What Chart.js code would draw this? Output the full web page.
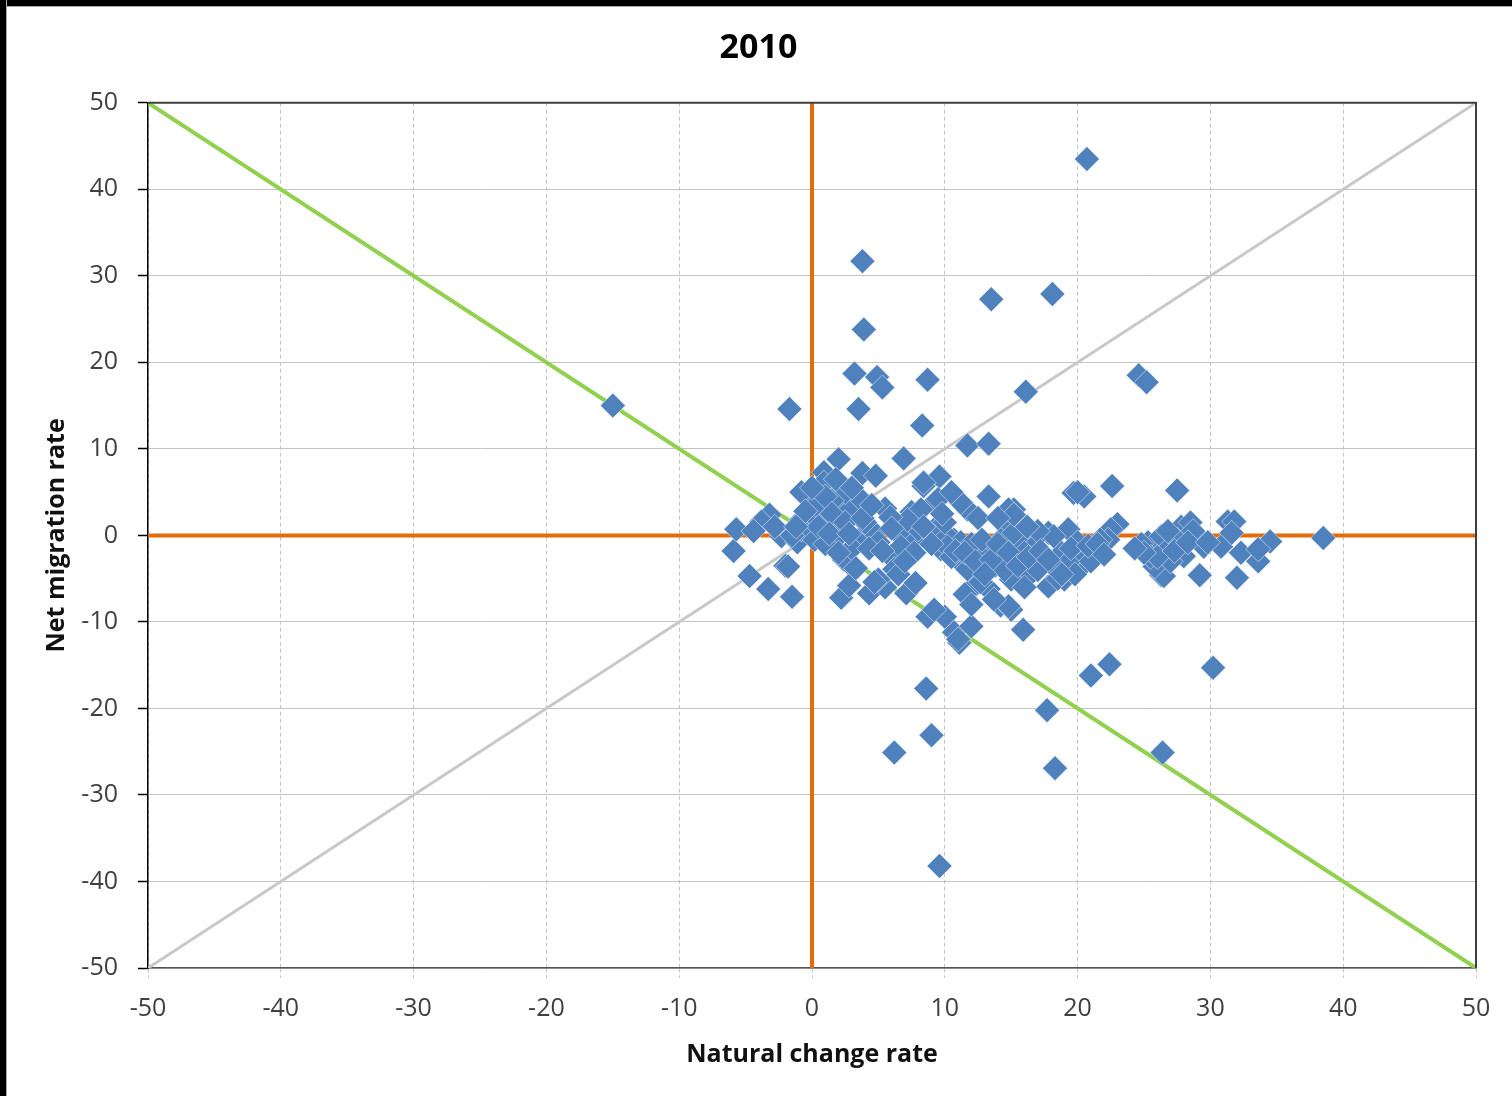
<!DOCTYPE html>
<html>
<head>
<meta charset="utf-8">
<script src="https://cdn.jsdelivr.net/npm/chart.js@4"></script>
<style>
  html, body { margin: 0; padding: 0; background: #fff; }
  #wrap { position: relative; width: 1512px; height: 1096px; }
  #frame-top { position: absolute; left: 0; top: 0; width: 1512px; height: 6px; background: #000; border-bottom: 1px solid #aaa; }
  #frame-left { position: absolute; left: 0; top: 0; width: 6px; height: 1096px; background: #000; border-right: 1px solid #aaa; }
</style>
</head>
<body>
<div id="wrap">
  <canvas id="chart" width="1512" height="1096"></canvas>
  <div id="frame-top"></div>
  <div id="frame-left"></div>
</div>
<script>
// Natural change rate (x) and net migration rate (y), one pair per area
const natChange = [
  20.7, 3.8, 13.5, 18.1, 3.9, 3.2, 4.9, 5.3, 8.7, 16.1,
  24.6, 25.2, -15.0, -1.7, 3.5, 8.3, 11.7, 13.3, 2.0, 6.9,
  3.8, 4.8, 9.6, 22.6, 27.5, 19.7, 20.5, 38.5, 34.5, 33.6,
  32.0, 29.2, 26.3, 31.3, 31.8, 30.2, 22.4, 21.0, 17.7, 18.3,
  26.4, 8.6, 9.0, 6.2, 9.6, 15.9, 11.1, 10.7, 8.7, 10.0,
  12.0, 14.2, -1.5, -3.3, -4.7, -5.9, -5.7, -2.0, -3.2, -3.8,
  2.2, 2.8, 4.3, 5.5, 7.1, 5.5, -4.4, -2.3, -1.1, -0.8,
  -0.3, 0.9, 1.7, 0.7, 0.7, 2.2, 1.7, 3.2, 2.4, 3.5,
  4.7, 6.7, 7.7, 7.5, 8.4, 9.2, 5.9, 6.2, 5.0, 11.0,
  9.7, 10.7, 11.7, 13.3, 15.2, 11.2, 12.2, 13.3, 15.0, 13.5,
  15.0, 9.2, 8.0, 20.0, 14.8, 23.0, 22.5, 19.3, 17.8, 16.7,
  15.7, 15.0, 16.3, 17.8, 19.0, 20.3, 21.2, 22.3, 14.8, 25.3,
  26.3, 26.8, 26.5, 25.8, 27.8, 28.5, 29.0, 28.0, 29.5, 30.8,
  31.6, 32.3, 33.6, 18.8, 19.5, 18.2, 8.4, 9.5, 8.2, 7.2,
  10.2, 11.2, 13.0, 14.2, 15.2, 16.7, 18.2, 20.4, 21.7, 11.7,
  15.0, 16.7, -0.8, 0.9, 2.0, 2.9, 5.9, 8.4, -0.8, 0.2,
  1.7, 5.0, 6.7, 7.7, -1.8, 2.7, 4.7, 9.2, 10.2, 11.2,
  12.7, 13.7, 24.8, 25.5, 27.0, 27.5, 28.7, 12.5, 13.8, 14.5,
  16.0, 17.0, 19.8, 21.0, 12.0, 10.5, 9.0, 4.0, 1.2, 0.3,
  3.0, 1.0, -1.5, -2.8, 2.5, 1.5, 3.8, 6.5, 7.8, 18.5,
  20.0, 17.0, 15.2, 0.3, 1.0, 1.5, 2.5, 0.5, 1.3, 2.8,
  3.8, 4.3, 2.0, 0.0, 1.8, 3.0, -0.5, -1.2, 4.5, 6.0,
  5.3, 3.3, 7.0, 10.0, 10.8, 11.5, 12.3, 12.8, 13.5, 14.0,
  14.8, 15.5, 16.3, 17.2, 17.8, 18.8, 19.5, 20.8, 21.5, 22.0,
  16.0, 13.0, 11.5, 12.0, 9.8, 10.5, 12.5, 14.0, 16.2, 26.0,
  27.3, 28.3, 26.8, 29.8, 25.0, 24.3
];
const netMigration = [
  43.5, 31.7, 27.3, 27.9, 23.8, 18.7, 18.3, 17.1, 18.0, 16.6,
  18.5, 17.7, 15.0, 14.6, 14.6, 12.7, 10.4, 10.6, 8.8, 8.9,
  7.2, 6.9, 6.8, 5.7, 5.2, 4.9, 4.5, -0.3, -0.7, -3.0,
  -4.9, -4.6, -4.6, 1.6, 1.6, -15.3, -14.9, -16.2, -20.2, -26.9,
  -25.1, -17.7, -23.1, -25.1, -38.2, -10.9, -12.4, -11.2, -9.4, -9.4,
  -10.5, -8.1, -7.1, -6.2, -4.7, -1.8, 0.7, -3.5, 2.4, 1.6,
  -7.2, -5.8, -6.7, -6.0, -6.7, 3.1, 0.5, -0.1, -0.8, 1.8,
  4.5, 7.3, 5.3, 3.0, -0.1, 0.7, -1.3, 2.7, -2.8, -0.5,
  0.3, -0.1, -0.8, 2.7, 5.7, 3.8, -2.4, -3.9, -5.1, -12.0,
  -1.6, -0.5, 3.0, 4.5, 3.0, -3.1, -5.9, -6.2, -8.6, -1.6,
  0.7, 0.7, 0.7, 5.0, 3.0, 1.3, 0.7, 0.7, 0.3, -0.5,
  -0.8, -2.8, -4.7, -5.9, -5.1, -3.6, -2.0, -0.5, -8.2, -0.8,
  -0.1, -1.6, -4.7, -3.6, 1.0, 1.5, -0.1, -2.4, -1.3, -1.3,
  0.3, -2.0, -1.6, -2.0, -2.8, -3.6, 6.1, 4.2, 3.0, 1.8,
  -0.1, -0.8, -1.6, -0.5, 0.3, -1.3, -0.1, -2.0, -0.5, -3.9,
  -5.1, -3.1, 5.0, 6.1, 3.8, 3.0, 2.1, 1.0, 0.7, -0.5,
  -0.5, -0.8, -1.3, -2.0, -3.6, -3.1, -5.4, -8.6, -1.3, 3.8,
  -5.4, -7.4, -1.0, -2.5, -3.0, -0.5, 0.5, -2.0, -3.5, -4.0,
  -2.0, -4.0, -4.5, -3.0, -1.0, -2.5, -1.0, 1.5, 1.5, 2.0,
  -1.5, -1.0, 0.0, 1.0, 5.0, 4.0, 4.0, -4.5, -5.5, -5.0,
  -0.8, 0.5, 2.4, 3.5, 4.5, 2.5, 1.5, 1.0, 0.2, 0.2,
  2.0, -1.5, -2.0, 5.5, 6.5, 5.5, 2.8, 1.0, 3.5, 0.8,
  -1.8, -3.8, -3.0, 1.5, -1.8, -2.0, -3.0, -0.5, -2.8, -1.0,
  -2.0, -3.5, -2.5, -1.8, -2.8, -4.5, -1.5, -1.2, -1.0, -2.2,
  -6.0, -4.5, -6.8, -8.0, 2.5, 5.0, 2.0, 2.0, 1.0, -2.5,
  -1.8, -0.8, 0.5, -0.8, -2.0, -1.5
];

// reference lines (endpoints in data units)
const axisX = [{ x: 0, y: -50 }, { x: 0, y: 50 }];
const axisY = [{ x: -50, y: 0 }, { x: 50, y: 0 }];
const balanceLine = [{ x: -50, y: 50 }, { x: 50, y: -50 }];
const diagonalLine = [{ x: -50, y: -50 }, { x: 50, y: 50 }];

const axisMin = -50;
const axisMax = 50;
const axisStep = 10;

const points = natChange.map((x, i) => ({ x: x, y: netMigration[i] }));

// top and right edges of the plot box
const plotFrame = {
    id: 'plotFrame',
    afterDraw(chart) {
        const { ctx, chartArea: a } = chart;
        ctx.save();
        ctx.strokeStyle = '#404040';
        ctx.lineWidth = 2;
        ctx.beginPath();
        ctx.moveTo(a.left, a.top);
        ctx.lineTo(a.right, a.top);
        ctx.lineTo(a.right, a.bottom);
        ctx.stroke();
        ctx.restore();
    }
};

const tickFont = { family: 'Open Sans', size: 25 };
const labelFont = { family: 'Open Sans', size: 25, weight: 'bold', lineHeight: 1 };

new Chart(document.getElementById('chart').getContext('2d'), {
    type: 'scatter',
    data: {
        datasets: [
            {
                label: '2010',
                data: points,
                order: 0,
                pointStyle: 'rectRot',
                pointRadius: 12.5,
                backgroundColor: '#4F81BD',
                borderColor: 'rgba(255,255,255,0.5)',
                borderWidth: 1
            },
            {
                data: diagonalLine, showLine: true, order: 4,
                borderColor: '#C8C8C8', borderWidth: 3, pointRadius: 0
            },
            {
                data: balanceLine, showLine: true, order: 3,
                borderColor: '#92D050', borderWidth: 4, pointRadius: 0
            },
            {
                data: axisX, showLine: true, order: 2,
                borderColor: '#E46C0A', borderWidth: 4, pointRadius: 0
            },
            {
                data: axisY, showLine: true, order: 2,
                borderColor: '#E46C0A', borderWidth: 4, pointRadius: 0
            }
        ]
    },
    options: {
        responsive: false,
        animation: false,
        layout: { padding: { left: 41, right: 36, top: 0, bottom: 0 } },
        plugins: {
            legend: { display: false },
            tooltip: { enabled: false },
            title: {
                display: true,
                text: '2010',
                color: '#000',
                font: { family: 'Open Sans', size: 34, weight: 'bold' },
                padding: { top: 28, bottom: 34 }
            }
        },
        scales: {
            x: {
                type: 'linear',
                min: axisMin,
                max: axisMax,
                afterFit(scale) { scale.height = 128; },
                ticks: { stepSize: axisStep, color: '#404040', font: tickFont, padding: 16, maxRotation: 0 },
                grid: {
                    color: '#C4C4C4', borderDash: [4, 3], tickLength: 10,
                    tickColor: '#C4C4C4', tickBorderDash: [4, 3]
                },
                border: { display: true, color: '#555', width: 1.5, dash: [4, 3] },
                title: {
                    display: true,
                    text: 'Natural change rate',
                    color: '#111',
                    font: labelFont,
                    padding: { top: 0, bottom: 29 }
                }
            },
            y: {
                type: 'linear',
                min: axisMin,
                max: axisMax,
                afterFit(scale) { scale.width = 107; },
                ticks: { stepSize: axisStep, color: '#404040', font: tickFont, padding: 20 },
                grid: {
                    color: '#C4C4C4', borderDash: [4, 3], tickLength: 10,
                    tickColor: '#000', tickBorderDash: [], tickWidth: 1.5
                },
                border: { display: true, color: '#000', width: 1.5 },
                title: {
                    display: true,
                    text: 'Net migration rate',
                    color: '#111',
                    font: labelFont,
                    padding: { top: 3, bottom: 0 }
                }
            }
        }
    },
    plugins: [plotFrame]
});
</script>
</body>
</html>
